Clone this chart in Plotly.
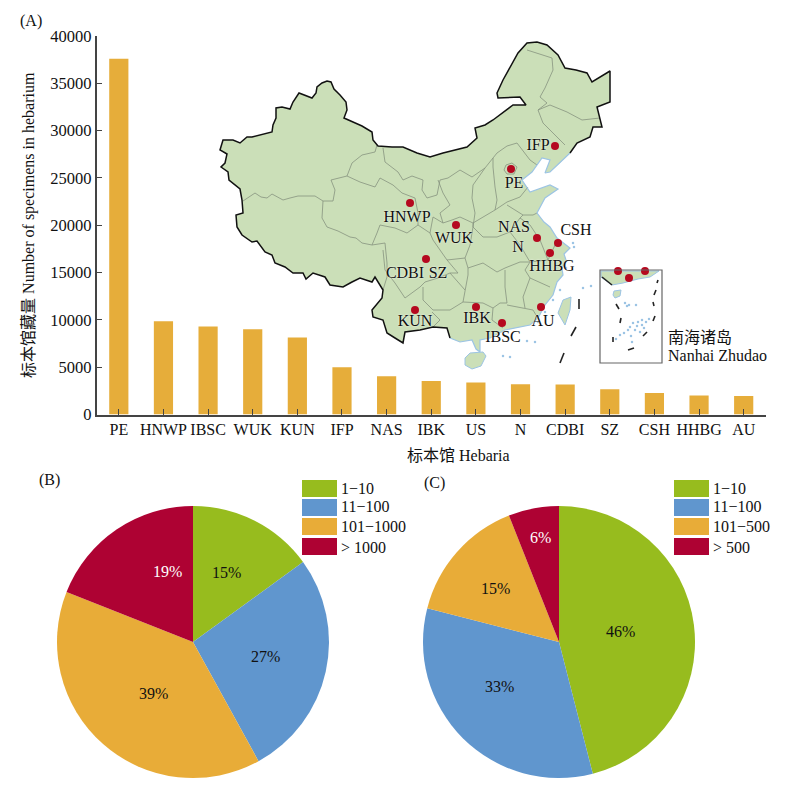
import plotly.graph_objects as go

FONT = "Liberation Serif, Noto Sans CJK SC, serif"

# bar chart (A)
herbaria = ["PE", "HNWP", "IBSC", "WUK", "KUN", "IFP", "NAS", "IBK", "US", "N", "CDBI", "SZ", "CSH", "HHBG", "AU"]
specimens = [37600, 9850, 9300, 9000, 8150, 5000, 4050, 3550, 3370, 3200, 3180, 2680, 2280, 2000, 1950]
y_ticks = [0, 5000, 10000, 15000, 20000, 25000, 30000, 35000, 40000]

# pies (B) and (C)
pie_b_labels = ["1−10", "11−100", "101−1000", "> 1000"]
pie_b_values = [15, 27, 39, 19]
pie_c_labels = ["1−10", "11−100", "101−500", "> 500"]
pie_c_values = [46, 33, 15, 6]
pie_colors = ["#97BC1E", "#6096CE", "#E8AC38", "#AE0233"]
pct_colors = ["#111111", "#111111", "#111111", "#ffffff"]
# where the percent labels sit on the page
pie_b_pct_x = [226, 265, 153, 167]
pie_b_pct_y = [572, 656, 693, 571]
pie_c_pct_x = [620, 499, 495, 540]
pie_c_pct_y = [631, 686, 588, 537]

# map (page pixels)
border = [(450, 338), (447, 328), (433, 327), (420, 330), (405, 332), (403, 343), (395, 338), (387, 333), (383, 320),
          (373, 317), (372, 310), (382, 298), (383, 290), (375, 277), (372, 282), (360, 278), (352, 282), (343, 287),
          (330, 285), (325, 277), (313, 273), (306, 279), (303, 273), (293, 273), (285, 267), (275, 263), (272, 255),
          (265, 252), (257, 241), (252, 242), (242, 235), (237, 227), (236, 215), (243, 213), (242, 200), (240, 189),
          (229, 180), (228, 172), (221, 167), (225, 163), (227, 154), (220, 150), (223, 140), (233, 140), (240, 143),
          (247, 137), (252, 137), (272, 132), (273, 125), (276, 118), (276, 108), (282, 107), (290, 109), (293, 102),
          (299, 93), (305, 95), (312, 98), (316, 93), (317, 87), (322, 83), (327, 81), (331, 82), (334, 89), (340, 95),
          (346, 102), (347, 110), (344, 118), (353, 122), (362, 126), (372, 132), (373, 140), (378, 146), (392, 147),
          (403, 147), (417, 153), (430, 157), (443, 153), (467, 147), (477, 138), (475, 128), (485, 125), (493, 120),
          (513, 105), (526, 105), (520, 97), (498, 98), (497, 93), (503, 80), (510, 68), (518, 53), (527, 43), (537, 42),
          (547, 45), (558, 55), (565, 68), (576, 70), (587, 73), (592, 82), (610, 71), (610, 102), (597, 107), (602, 127),
          (593, 127), (590, 137), (577, 143), (570, 153)]
coast = [(570, 153), (560, 163), (550, 172), (545, 173), (550, 160), (542, 158), (532, 172), (522, 180), (530, 192),
         (550, 185), (558, 189), (545, 198), (537, 213), (544, 222), (550, 227), (557, 238), (570, 248), (564, 254),
         (566, 260), (562, 268), (563, 275), (557, 282), (553, 295), (545, 305), (538, 318), (530, 325), (516, 328),
         (505, 330), (490, 338), (480, 340), (480, 352), (476, 349), (472, 340), (460, 342), (450, 338)]
hainan = [(470, 353), (483, 352), (486, 356), (481, 366), (472, 369), (465, 365), (465, 358), (470, 353)]
taiwan = [(571, 297), (563, 300), (558, 313), (565, 325), (570, 310), (571, 297)]
inset_land = [(601, 271), (659, 271), (656, 273), (650, 277), (638, 279), (623, 283), (612, 285), (601, 277), (601, 271)]
inset_hainan = [(614, 291), (621, 290), (620, 296), (615, 298), (613, 295), (614, 291)]

provinces = [
    [(243, 201), (255, 193), (261, 197), (267, 198), (272, 194), (283, 200), (290, 198), (298, 196), (315, 196), (323, 201), (333, 201), (335, 190), (331, 180), (347, 176), (352, 163), (362, 155), (375, 152), (377, 145)],
    [(323, 201), (322, 218), (327, 227), (338, 231), (350, 237), (356, 238), (362, 243), (372, 245), (377, 233), (380, 225), (395, 228), (407, 233), (418, 225), (418, 213), (415, 198), (402, 193), (393, 185), (380, 178), (375, 187), (360, 182), (347, 176)],
    [(372, 245), (385, 243), (387, 263), (387, 277), (383, 290)],
    [(383, 148), (385, 162), (398, 172), (403, 180), (412, 176), (423, 180), (422, 190), (427, 198), (437, 195), (440, 180), (448, 178), (460, 170), (472, 177), (485, 168), (493, 158), (497, 153), (507, 146), (517, 143), (530, 160), (537, 165)],
    [(418, 225), (430, 233), (433, 217), (443, 223), (452, 220), (460, 217), (473, 223)],
    [(438, 180), (443, 193), (450, 205), (440, 213), (443, 223)],
    [(485, 168), (473, 185), (472, 198), (475, 213), (473, 227), (473, 223), (495, 210), (497, 200), (495, 187), (493, 167), (493, 158)],
    [(495, 210), (507, 202), (520, 197), (528, 187)],
    [(507, 205), (523, 215), (533, 215), (537, 213)],
    [(506, 165), (512, 163), (517, 167), (514, 174), (507, 174), (504, 170), (506, 165)],
    [(527, 50), (552, 58), (553, 70), (545, 88), (540, 97), (547, 103), (538, 110), (543, 123), (553, 133), (565, 145)],
    [(538, 110), (550, 105), (567, 112), (582, 120), (600, 118)],
    [(473, 227), (483, 237), (497, 237), (510, 232), (520, 218), (523, 215)],
    [(510, 232), (520, 245), (530, 262), (520, 262), (505, 268), (497, 272), (483, 263), (468, 268)],
    [(530, 262), (548, 260), (555, 245)],
    [(520, 218), (530, 225), (540, 240), (548, 260)],
    [(473, 227), (470, 245), (465, 258), (468, 268), (468, 275), (465, 290), (463, 302), (483, 303), (493, 308), (500, 303), (507, 303), (505, 287), (505, 270)],
    [(493, 308), (492, 320), (503, 328)],
    [(507, 305), (525, 308), (533, 310), (536, 315)],
    [(525, 308), (523, 297), (530, 278), (550, 287)],
    [(530, 278), (525, 270), (530, 262)],
    [(383, 250), (385, 270), (395, 283), (405, 298), (420, 287), (425, 282), (438, 278), (450, 273), (458, 273), (447, 260), (433, 240), (430, 233)],
    [(423, 287), (423, 300), (433, 310), (450, 310), (463, 302)],
    [(432, 312), (440, 320), (433, 327)],
    [(450, 273), (465, 290)],
    [(447, 260), (465, 258)],
]

# sea islands and the nine dashes
island_x = [583, 591, 535, 527, 503, 510, 573, 574, 566, 560, 553, 545, 538,
            625, 627, 629, 636, 638, 642, 646, 649, 628, 624, 620, 632, 635, 642, 640, 633, 630, 637, 644, 631, 616]
island_y = [288, 286, 342, 341, 356, 357, 243, 247, 268, 290, 300, 312, 322,
            303, 306, 305, 305, 322, 320, 322, 319, 330, 333, 335, 342, 330, 325, 332, 323, 327, 326, 328, 336, 339]
dashes = [[(579, 299), (579, 309)], [(576, 327), (571, 336)], [(564, 353), (560, 363)],
          [(658, 280), (657, 283)], [(656, 290), (654, 295)], [(653, 302), (654, 306)], [(655, 316), (653, 321)],
          [(647, 332), (643, 336)], [(628, 350), (634, 348)], [(613, 337), (613, 342)], [(621, 318), (620, 323)],
          [(616, 304), (619, 309)], [(602, 277), (612, 285)]]

site_x = [555, 511, 410, 456, 537, 558, 550, 426, 415, 476, 502, 541, 618, 629, 645]
site_y = [146, 169, 203, 225, 238, 243, 253, 259, 310, 307, 323, 307, 271, 278, 271]
site_names = ["IFP", "PE", "HNWP", "WUK", "NAS", "N", "CSH", "HHBG", "CDBI", "SZ", "KUN", "IBK", "AU", "IBSC"]
name_x = [538, 514, 407, 454, 514, 518, 576, 552, 405, 438, 415, 477, 543, 503]
name_y = [146, 184, 218, 239, 228, 248, 231, 267, 274, 274, 322, 319, 322, 338]


def unzip(points):
    return [p[0] for p in points], [p[1] for p in points]


def joined(lines):
    xs, ys = [], []
    for line in lines:
        xs += [p[0] for p in line] + [None]
        ys += [p[1] for p in line] + [None]
    return xs, ys


fig = go.Figure()

fig.add_bar(x=herbaria, y=specimens, width=0.43, marker=dict(color="#E6AD3A", line_width=0), showlegend=False)

# land first, then lines on top. x2/y2 is a page pixel axis
land_x, land_y = unzip(border + coast[1:])
fig.add_scatter(x=land_x, y=land_y, xaxis="x2", yaxis="y2", mode="lines", fill="toself",
                fillcolor="#CBDFB8", line=dict(width=0), hoverinfo="skip")
for shape_pts in [hainan, taiwan, inset_land, inset_hainan]:
    sx, sy = unzip(shape_pts)
    fig.add_scatter(x=sx, y=sy, xaxis="x2", yaxis="y2", mode="lines", fill="toself",
                    fillcolor="#CBDFB8", line=dict(color="#9CC4E4", width=1), hoverinfo="skip")
px, py = joined(provinces)
fig.add_scatter(x=px, y=py, xaxis="x2", yaxis="y2", mode="lines", line=dict(color="#86937F", width=0.8), hoverinfo="skip")
cx, cy = unzip(coast)
fig.add_scatter(x=cx, y=cy, xaxis="x2", yaxis="y2", mode="lines", line=dict(color="#9CC4E4", width=1.2), hoverinfo="skip")
bx, by = unzip(border)
fig.add_scatter(x=bx, y=by, xaxis="x2", yaxis="y2", mode="lines", line=dict(color="#111111", width=1.5), hoverinfo="skip")
dx, dy = joined(dashes)
fig.add_scatter(x=dx, y=dy, xaxis="x2", yaxis="y2", mode="lines", line=dict(color="#222222", width=1.6), hoverinfo="skip")
fig.add_scatter(x=island_x, y=island_y, xaxis="x2", yaxis="y2", mode="markers",
                marker=dict(color="#9CC4E4", size=2.5), hoverinfo="skip")
fig.add_scatter(x=site_x, y=site_y, xaxis="x2", yaxis="y2", mode="markers",
                marker=dict(color="#B5091F", size=8), hoverinfo="skip")
fig.add_scatter(x=name_x, y=name_y, xaxis="x2", yaxis="y2", mode="text", text=site_names,
                textfont=dict(family=FONT, size=16, color="#111111", shadow="0 0 2px #ffffff"), hoverinfo="skip")

fig.add_pie(labels=pie_b_labels, values=pie_b_values, textinfo="none", sort=False, direction="clockwise", rotation=0,
            marker=dict(colors=pie_colors, line_width=0),
            domain=dict(x=[57 / 806, 329 / 806], y=[1 - 778 / 794, 1 - 506 / 794]), showlegend=False)
fig.add_pie(labels=pie_c_labels, values=pie_c_values, textinfo="none", sort=False, direction="clockwise", rotation=0,
            marker=dict(colors=pie_colors, line_width=0),
            domain=dict(x=[423 / 806, 695 / 806], y=[1 - 778 / 794, 1 - 506 / 794]), showlegend=False)

# hand made legends, plotly swatches are too small
shapes = []
notes = []
row_top = [480, 499, 518, 538]
text_mid = [488, 506, 526, 547]
for swatch_left, labels in [(302, pie_b_labels), (674, pie_c_labels)]:
    for i, lab in enumerate(labels):
        shapes.append(dict(type="rect", xref="x2", yref="y2", x0=swatch_left, x1=swatch_left + 35, y0=row_top[i],
                           y1=row_top[i] + 17, fillcolor=pie_colors[i], line_width=0))
        notes.append(dict(x=swatch_left + 37, y=text_mid[i], text=lab, xanchor="left"))
shapes.append(dict(type="rect", xref="x2", yref="y2", x0=600, x1=662, y0=270, y1=363, line=dict(color="#666666", width=1.2)))

notes += [dict(x=31, y=21, text="(A)", xanchor="center"),
          dict(x=49, y=480, text="(B)", xanchor="center"),
          dict(x=434, y=483, text="(C)", xanchor="center"),
          dict(x=666, y=337, text="南海诸岛", xanchor="left"),
          dict(x=666, y=355, text="Nanhai Zhudao", xanchor="left"),
          dict(x=458, y=455, text="标本馆 Hebaria", xanchor="center")]
for vals, xs, ys in [(pie_b_values, pie_b_pct_x, pie_b_pct_y), (pie_c_values, pie_c_pct_x, pie_c_pct_y)]:
    for v, x, y, col in zip(vals, xs, ys, pct_colors):
        notes.append(dict(x=x, y=y, text=f"{v}%", xanchor="center", color=col))

annotations = []
for n in notes:
    col = n.pop("color", "#111111")
    annotations.append(dict(n, xref="x2", yref="y2", showarrow=False, yanchor="middle",
                            font=dict(family=FONT, size=16, color=col)))
fig.update_layout(annotations=annotations, shapes=shapes)

fig.update_xaxes(domain=[96.5 / 806, 766 / 806], showgrid=False, zeroline=False, showline=True, linecolor="#444444",
                 linewidth=1.5, ticks="inside", ticklen=6, tickcolor="#444444", tickfont=dict(family=FONT, size=16, color="#111111"),
                 tickangle=0)
fig.update_yaxes(domain=[1 - 414.5 / 794, 1 - 36 / 794], range=[0, 40000], tickvals=y_ticks, tickformat="d", showgrid=False, zeroline=False,
                 showline=True, linecolor="#444444", linewidth=1.5, ticks="inside", ticklen=6, tickcolor="#444444",
                 tickfont=dict(family=FONT, size=16.5, color="#111111"),
                 title=dict(text="标本馆藏量 Number of specimens in hebarium", font=dict(family=FONT, size=16, color="#111111"), standoff=12))

fig.update_layout(
    width=806, height=794, margin=dict(l=0, r=0, t=0, b=0, autoexpand=False), plot_bgcolor="rgba(0,0,0,0)", paper_bgcolor="white",
    showlegend=False, bargap=0.57,
    xaxis2=dict(domain=[0, 1], range=[0, 806], visible=False, anchor="y2"),
    yaxis2=dict(domain=[0, 1], range=[794, 0], visible=False, anchor="x2"),
)

fig.write_html("out.html", config=dict(displayModeBar=False), post_script="document.body.style.margin='0';")
